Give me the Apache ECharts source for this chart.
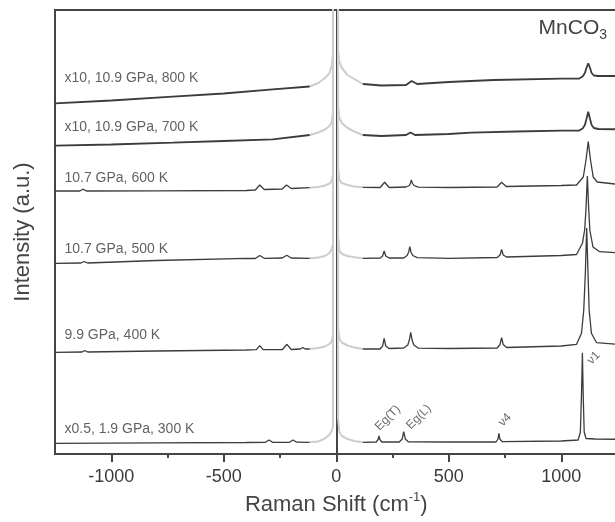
<!DOCTYPE html>
<html><head><meta charset="utf-8">
<script src="https://cdn.jsdelivr.net/npm/echarts@6/dist/echarts.min.js"></script>
<style>html,body{margin:0;padding:0;background:#fff}#c{width:615px;height:522px}</style>
</head><body><div id="c"></div>
<script>
// ---- tick values ----
const xTicksMajor = [-1000, -500, 0, 500, 1000];
const xTicksMinor = [-750, -250, 250, 750];
const laserRange = [-118, 118];   // part of each spectrum drawn in grey (Rayleigh line)

// ---- spectra: [Raman shift (cm-1), intensity incl. vertical offset (a.u.)] ----
const spec800 = [[-1250,350.7],[-1000,353.5],[-727,357.3],[-500,360.5],[-282,364.7],[-118,367.5],
 [-80,371],[-50,376],[-30,381],[-20,388],[-14.4,400],[-14.4,1500],[7.8,1500],[7.8,405],[14,392],[25,386],[50,379],[80,375],[118,370],
 [200,368.5],[310,369],[335,373],[360,370],[500,372],[700,374],[1000,375.3],[1080,375.5],[1095,377.5],[1105,381],[1112,386],
 [1120,390.7],[1128,386],[1135,381],[1145,378.5],[1165,378],[1250,378]];
const spec700 = [[-1250,308.3],[-1000,309.5],[-727,311.3],[-500,313],[-282,314.7],[-118,319],
 [-80,321.5],[-50,324.5],[-30,328],[-20,332],[-14.4,342],[-14.4,1500],[7.8,1500],[7.8,350],[14,336],[25,331],[50,326],[80,322.5],[118,319],
 [200,318],[310,319],[330,321.5],[350,319],[500,320],[600,321.3],[800,322.5],[1000,323.3],[1080,323.5],[1095,325.5],[1105,329],
 [1112,335],[1120,342.3],[1128,335],[1135,329],[1145,326],[1165,325],[1250,324.7]];
const spec600 = [[-1250,263],[-1140,263],[-1126,264.8],[-1110,263],[-800,263.2],[-400,263.5],[-360,264],[-340,269],[-320,264.5],
 [-240,265],[-221,269],[-200,265.5],[-118,266.3],
 [-80,267],[-50,268.5],[-30,270.5],[-20,273],[-14.4,280],[-14.4,1500],[7.8,1500],[7.8,288],[14,274],[25,271],[50,269],[80,267.5],[118,266.7],
 [195,266.5],[215,271.7],[235,266.5],[310,267],[325,268.5],[330,271],[334,274],[338,271],[345,268.5],[365,266.8],[500,266.5],
 [715,267],[735,271.7],[755,267.5],[1000,268.5],[1068,269],[1098,277],[1110,294],[1120,312.3],[1130,294],[1142,277],[1160,272],[1250,269.7]];
const spec500 = [[-1250,190.7],[-1135,191],[-1120,192.5],[-1105,191],[-800,193.5],[-400,195.7],[-360,195.5],[-340,198.5],[-320,195.7],
 [-240,196],[-220,198.7],[-200,196],[-118,195.7],
 [-80,196.5],[-50,198],[-30,201],[-20,205],[-14.4,210],[-14.4,1500],[7.8,1500],[7.8,218],[14,203],[25,200],[50,198],[80,196.8],[118,195.7],
 [195,196],[206,198],[213,203],[220,198],[235,196],[300,196],[315,198.5],[322,202],[327,207.3],[332,202],[340,198.5],[360,196.3],
 [500,195.7],[715,196.5],[728,199],[735,204.7],[742,199],[757,197],[1000,198.5],[1068,199.5],[1094,210.7],[1104,224],[1110,245],
 [1116,278],[1122,245],[1127,224],[1141,207],[1171,202.3],[1250,201.3]];
const spec400 = [[-1250,101.7],[-1130,102],[-1118,103.5],[-1105,102],[-800,103],[-400,104],[-355,104.3],[-340,108.3],[-325,104.3],
 [-240,104.3],[-219,109.7],[-200,104.5],[-160,105],[-149,106.5],[-138,105],[-118,105],
 [-80,106],[-50,107.5],[-30,110],[-20,113],[-14.4,120],[-14.4,1500],[7.8,1500],[7.8,128],[14,115],[25,111.5],[50,108.5],[80,106.5],[118,105],
 [195,105],[206,108],[213,115.7],[220,108],[235,105.5],[300,106],[318,109],[325,114],[331,121.7],[337,114],[345,109],[365,105.8],
 [500,105.5],[715,106],[728,109.5],[735,116.3],[742,109.5],[757,106.5],[1000,108],[1068,109.7],[1090,120.7],[1100,144],[1107,180],
 [1113,226],[1119,180],[1124,144],[1134,120.7],[1157,111.3],[1250,109.7]];
const spec300 = [[-1250,10.7],[-800,11.2],[-400,11.5],[-315,11.7],[-299,14],[-283,11.7],[-208,11.7],[-192,14],[-176,11.8],[-118,11.7],
 [-80,12.5],[-50,15.5],[-30,19.5],[-20,23],[-14.4,28],[-14.4,1500],[7.8,1500],[7.8,36],[14,22],[25,18],[50,15],[80,13],[118,11.7],
 [178,12],[186,14.5],[190,18],[194,14.5],[202,12],[280,12],[293,15],[300,22.3],[307,15],[320,12.2],[500,12],[710,12],[719,15],
 [723,20.7],[727,15],[738,12.3],[1000,13],[1075,14],[1085,22],[1090,60],[1094,101.3],[1098,55],[1102,22],[1110,15.5],[1150,15],[1250,14.7]];

// ---- spectrum labels and their anchor points (data coords) ----
const specNames = ['x10, 10.9 GPa, 800 K','x10, 10.9 GPa, 700 K','10.7 GPa, 600 K','10.7 GPa, 500 K','9.9 GPa, 400 K','x0.5, 1.9 GPa, 300 K'];
const specLabelAnchors = [[-1208,376],[-1208,327],[-1208,276],[-1208,204.5],[-1208,118.5],[-1208,25]];
// ---- mode annotations (data coords) ----
const modeNames = ['Eg(T)','Eg(L)','ν4','ν1'];
const modeAnchors = [[229,36],[367,37],[749,34],[1144,96]];

const spectra = [spec800, spec700, spec600, spec500, spec400, spec300];
const FONT = "'Liberation Sans', Arial, Helvetica, sans-serif";
const DARK = '#3c3c3c', GREY = '#cdcdcd';

const series = [];
spectra.forEach((d, i) => {
  const w = i < 2 ? 1.8 : 1.3;
  const left = d.filter(p => p[0] <= laserRange[0]);
  const mid = d.filter(p => p[0] >= laserRange[0] && p[0] <= laserRange[1]);
  const right = d.filter(p => p[0] >= laserRange[1]);
  [[left, DARK, 3, w], [mid, GREY, 2, 2], [right, DARK, 3, w]].forEach(([pts, col, z, lw]) => {
    series.push({type: 'line', data: pts, symbol: 'none', z: z, silent: true, clip: true,
      lineStyle: {color: col, width: lw}, animation: false});
  });
});
series.push({type: 'scatter', symbolSize: 0, silent: true, z: 5, animation: false,
  data: specLabelAnchors.map((p, i) => ({value: p, name: specNames[i]})),
  label: {show: true, position: 'right', distance: 0, formatter: '{b}', fontSize: 14, color: '#3a3a3a', fontFamily: FONT}});
series.push({type: 'scatter', symbolSize: 0, silent: true, z: 5, animation: false,
  data: modeAnchors.map((p, i) => ({value: p, name: modeNames[i]})),
  label: {show: true, position: 'inside', rotate: 45, formatter: '{b}', fontSize: 12, color: '#444', fontFamily: FONT}});

const chart = echarts.init(document.getElementById('c'), null, {renderer: 'canvas'});
chart.setOption({
  animation: false,
  backgroundColor: '#fff',
  title: {text: '{a|MnCO}{b|3}', right: 8, top: 14, padding: 0,
    textStyle: {fontWeight: 'normal', rich: {a: {fontSize: 21, lineHeight: 28, color: '#444', fontFamily: FONT, fontWeight: 'normal'},
                       b: {fontSize: 14, lineHeight: 14, verticalAlign: 'bottom', color: '#444', fontFamily: FONT, fontWeight: 'normal'}}}},
  grid: {left: 55, top: 10, width: 562.5, height: 444, show: true, borderColor: '#454545', borderWidth: 2,
    backgroundColor: 'transparent', containLabel: false, outerBoundsMode: 'none'},
  xAxis: [{
    type: 'value', min: -1250, max: 1250, interval: 250,
    axisLine: {show: true, onZero: false, lineStyle: {color: '#454545', width: 2}},
    axisTick: {show: true, length: 8, customValues: xTicksMajor, lineStyle: {color: '#454545', width: 2}},
    axisLabel: {show: true, customValues: xTicksMajor, margin: 14, fontSize: 18, color: '#3a3a3a', fontFamily: FONT,
      formatter: v => String(v)},
    splitLine: {show: false},
    name: '{n|Raman Shift (cm}{s|-1}{n|)}', nameLocation: 'middle', nameGap: 36,
    nameTextStyle: {color: '#444', fontFamily: FONT, fontSize: 22,
      rich: {n: {fontSize: 22, lineHeight: 28, color: '#444', fontFamily: FONT},
             s: {fontSize: 13, lineHeight: 13, verticalAlign: 'top', color: '#444', fontFamily: FONT}}}
  }, {
    type: 'value', min: -1250, max: 1250, interval: 250, position: 'bottom',
    axisLine: {show: false},
    axisTick: {show: true, length: 4, customValues: xTicksMinor, lineStyle: {color: '#454545', width: 2}},
    axisLabel: {show: false}, splitLine: {show: false}
  }],
  yAxis: {
    type: 'value', min: 0, max: 444,
    axisLine: {show: true, lineStyle: {color: '#454545', width: 2}},
    axisTick: {show: false}, axisLabel: {show: false}, splitLine: {show: false},
    name: 'Intensity (a.u.)', nameLocation: 'middle', nameGap: 21,
    nameTextStyle: {fontSize: 22, color: '#444', fontFamily: FONT}
  },
  series: series
});
</script></body></html>
